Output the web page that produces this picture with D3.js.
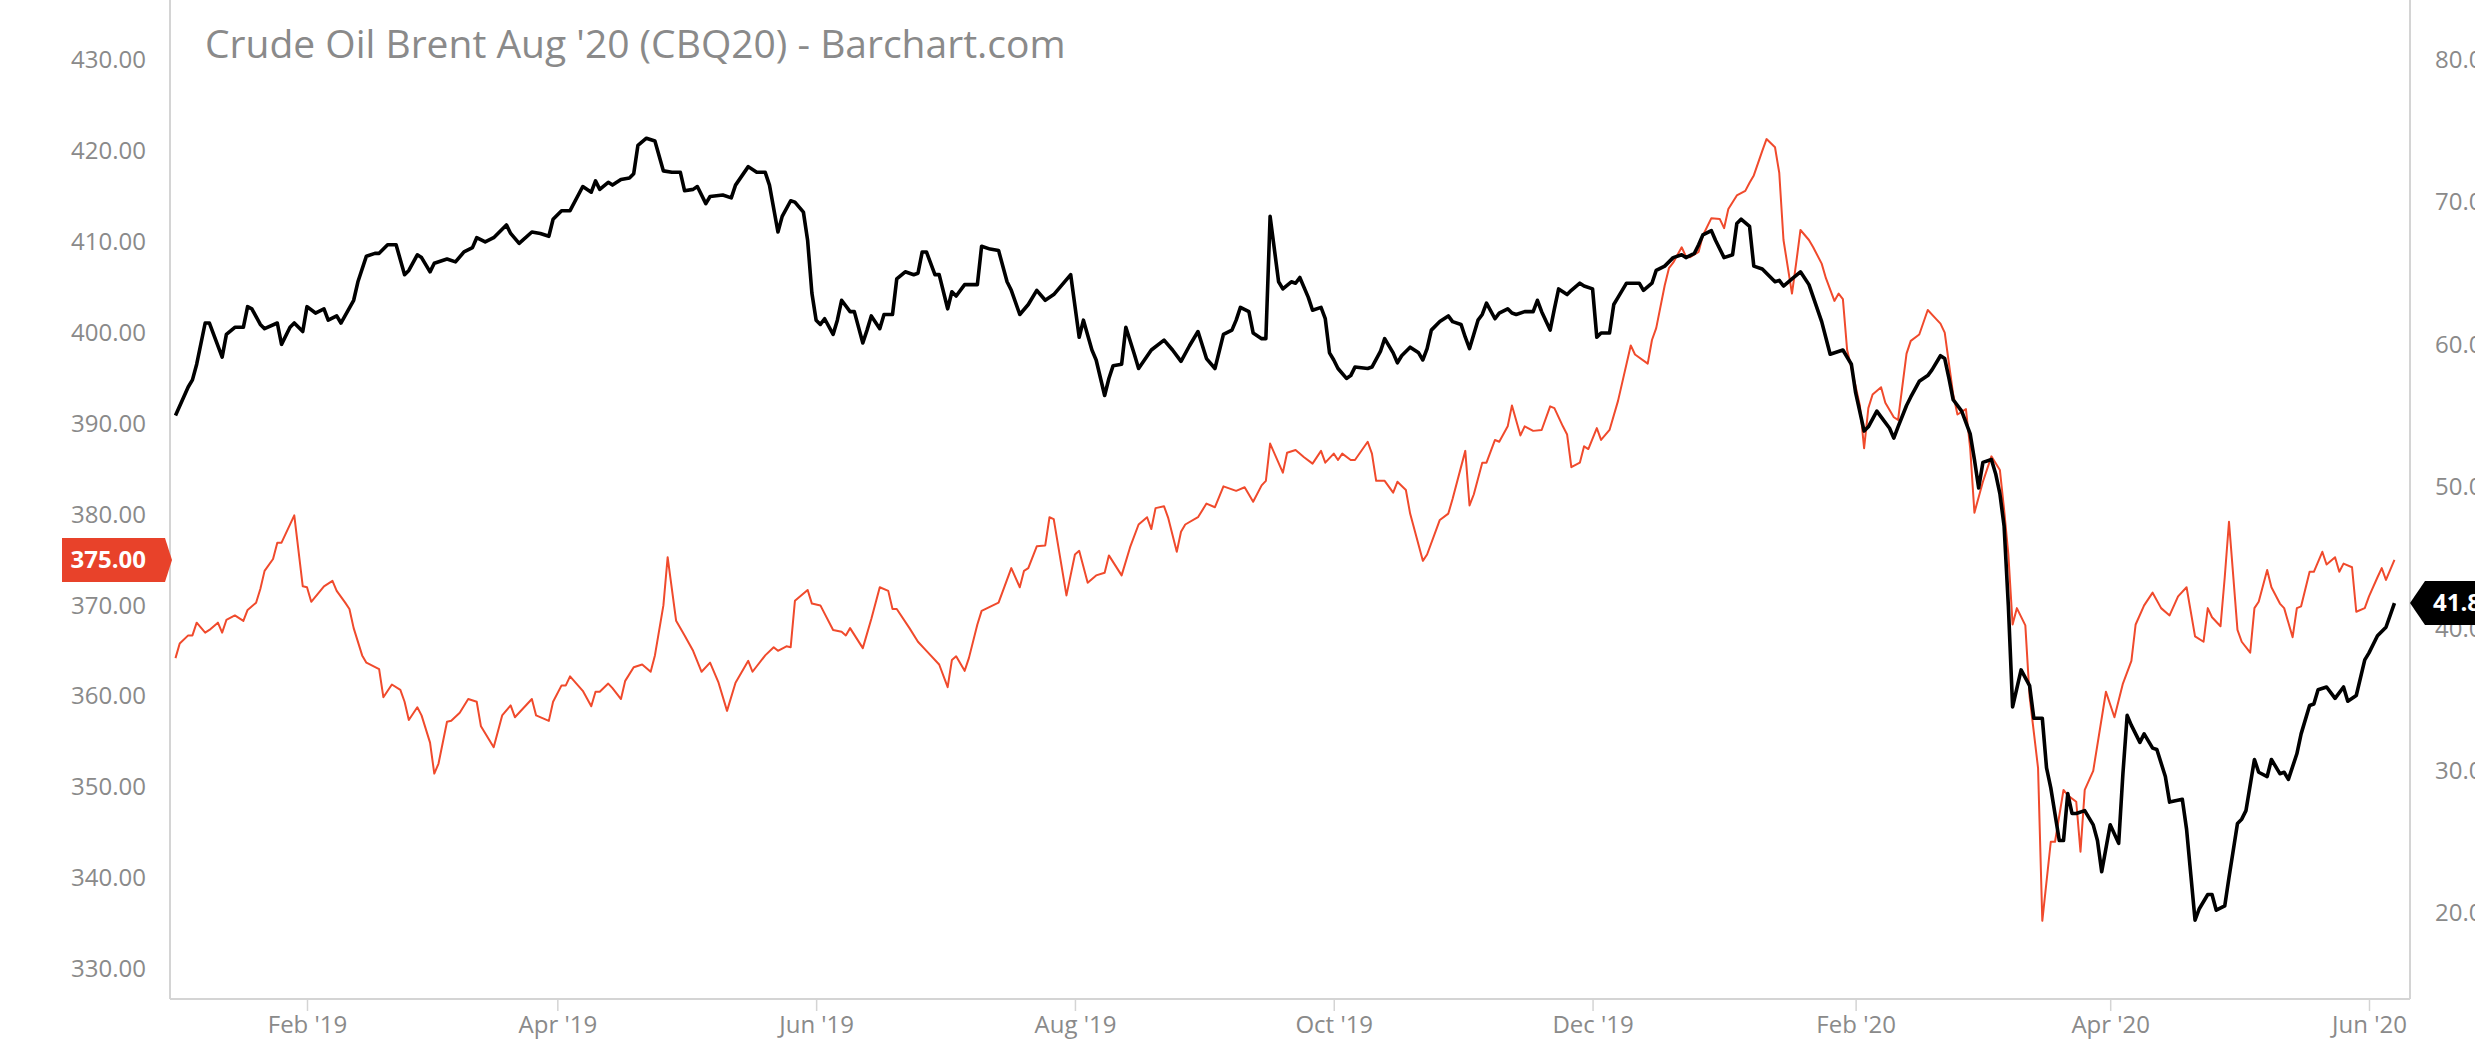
<!DOCTYPE html>
<html><head><meta charset="utf-8">
<script src="https://cdn.jsdelivr.net/npm/d3@7"></script>
<style>
body{margin:0;background:#fff;overflow:hidden}
svg{display:block;font-family:'Open Sans',sans-serif}
</style>
</head><body><svg id="chart" width="2475" height="1055"></svg>
<script>
const chartTitle = "Crude Oil Brent Aug '20 (CBQ20) - Barchart.com";
const leftTicks = [330, 340, 350, 360, 370, 380, 390, 400, 410, 420, 430];
const rightTicks = [20, 30, 40, 50, 60, 70, 80];
const xTickDates = ["2019-02-01","2019-04-01","2019-06-01","2019-08-01","2019-10-01","2019-12-01","2020-02-01","2020-04-01","2020-06-01"];

// Black series: Brent Aug '20 (right axis)
const brentDates = ["2019-01-01","2019-01-04","2019-01-05","2019-01-06","2019-01-08","2019-01-09","2019-01-12","2019-01-13","2019-01-15","2019-01-17","2019-01-18","2019-01-19","2019-01-21","2019-01-22","2019-01-25","2019-01-26","2019-01-28","2019-01-29","2019-01-31","2019-02-01","2019-02-03","2019-02-05","2019-02-06","2019-02-08","2019-02-09","2019-02-12","2019-02-13","2019-02-15","2019-02-17","2019-02-18","2019-02-20","2019-02-22","2019-02-24","2019-02-25","2019-02-27","2019-02-28","2019-03-02","2019-03-03","2019-03-06","2019-03-08","2019-03-10","2019-03-12","2019-03-13","2019-03-15","2019-03-17","2019-03-20","2019-03-21","2019-03-23","2019-03-26","2019-03-28","2019-03-30","2019-03-31","2019-04-02","2019-04-04","2019-04-07","2019-04-09","2019-04-10","2019-04-11","2019-04-13","2019-04-14","2019-04-16","2019-04-18","2019-04-19","2019-04-20","2019-04-22","2019-04-24","2019-04-26","2019-04-28","2019-04-30","2019-05-01","2019-05-03","2019-05-04","2019-05-06","2019-05-07","2019-05-10","2019-05-12","2019-05-13","2019-05-16","2019-05-18","2019-05-20","2019-05-21","2019-05-23","2019-05-24","2019-05-26","2019-05-27","2019-05-29","2019-05-30","2019-05-31","2019-06-01","2019-06-02","2019-06-03","2019-06-05","2019-06-06","2019-06-07","2019-06-09","2019-06-10","2019-06-12","2019-06-13","2019-06-14","2019-06-16","2019-06-17","2019-06-19","2019-06-20","2019-06-22","2019-06-24","2019-06-25","2019-06-26","2019-06-27","2019-06-29","2019-06-30","2019-07-02","2019-07-03","2019-07-04","2019-07-06","2019-07-09","2019-07-10","2019-07-12","2019-07-14","2019-07-16","2019-07-17","2019-07-19","2019-07-21","2019-07-23","2019-07-25","2019-07-27","2019-07-29","2019-07-31","2019-08-02","2019-08-03","2019-08-05","2019-08-06","2019-08-08","2019-08-09","2019-08-10","2019-08-12","2019-08-13","2019-08-15","2019-08-16","2019-08-19","2019-08-22","2019-08-24","2019-08-26","2019-08-28","2019-08-30","2019-09-01","2019-09-03","2019-09-05","2019-09-07","2019-09-08","2019-09-09","2019-09-11","2019-09-12","2019-09-14","2019-09-15","2019-09-16","2019-09-18","2019-09-19","2019-09-21","2019-09-22","2019-09-23","2019-09-25","2019-09-26","2019-09-28","2019-09-29","2019-09-30","2019-10-01","2019-10-02","2019-10-04","2019-10-05","2019-10-06","2019-10-09","2019-10-10","2019-10-12","2019-10-13","2019-10-15","2019-10-16","2019-10-17","2019-10-19","2019-10-21","2019-10-22","2019-10-23","2019-10-24","2019-10-26","2019-10-28","2019-10-29","2019-10-31","2019-11-01","2019-11-02","2019-11-04","2019-11-05","2019-11-06","2019-11-08","2019-11-09","2019-11-11","2019-11-12","2019-11-13","2019-11-15","2019-11-17","2019-11-18","2019-11-19","2019-11-21","2019-11-22","2019-11-23","2019-11-25","2019-11-26","2019-11-28","2019-11-29","2019-12-01","2019-12-02","2019-12-03","2019-12-05","2019-12-06","2019-12-07","2019-12-09","2019-12-11","2019-12-12","2019-12-13","2019-12-15","2019-12-16","2019-12-18","2019-12-20","2019-12-22","2019-12-23","2019-12-25","2019-12-26","2019-12-27","2019-12-29","2019-12-30","2020-01-01","2020-01-03","2020-01-04","2020-01-05","2020-01-07","2020-01-08","2020-01-10","2020-01-13","2020-01-14","2020-01-15","2020-01-17","2020-01-19","2020-01-21","2020-01-24","2020-01-26","2020-01-29","2020-01-31","2020-02-01","2020-02-03","2020-02-04","2020-02-06","2020-02-07","2020-02-09","2020-02-10","2020-02-11","2020-02-13","2020-02-14","2020-02-16","2020-02-18","2020-02-19","2020-02-21","2020-02-22","2020-02-23","2020-02-24","2020-02-26","2020-02-28","2020-02-29","2020-03-01","2020-03-02","2020-03-04","2020-03-05","2020-03-06","2020-03-07","2020-03-08","2020-03-09","2020-03-11","2020-03-13","2020-03-14","2020-03-16","2020-03-17","2020-03-18","2020-03-20","2020-03-21","2020-03-22","2020-03-23","2020-03-24","2020-03-26","2020-03-28","2020-03-29","2020-03-30","2020-04-01","2020-04-03","2020-04-04","2020-04-05","2020-04-06","2020-04-08","2020-04-09","2020-04-11","2020-04-12","2020-04-14","2020-04-15","2020-04-18","2020-04-19","2020-04-20","2020-04-21","2020-04-22","2020-04-24","2020-04-25","2020-04-26","2020-04-28","2020-04-29","2020-05-01","2020-05-02","2020-05-03","2020-05-05","2020-05-06","2020-05-08","2020-05-09","2020-05-11","2020-05-12","2020-05-13","2020-05-15","2020-05-16","2020-05-18","2020-05-19","2020-05-20","2020-05-22","2020-05-24","2020-05-26","2020-05-27","2020-05-29","2020-05-31","2020-06-01","2020-06-03","2020-06-05","2020-06-07"];
const brentValues = [55.0,57.0,57.5,58.6,61.5,61.5,59.1,60.7,61.2,61.2,62.65,62.5,61.4,61.1,61.5,60.0,61.2,61.5,60.9,62.65,62.2,62.5,61.7,62.0,61.5,63.1,64.4,66.2,66.4,66.4,67.0,67.0,64.9,65.2,66.3,66.1,65.1,65.7,66.0,65.8,66.5,66.8,67.5,67.2,67.5,68.4,67.8,67.1,67.9,67.8,67.6,68.8,69.4,69.4,71.1,70.7,71.5,70.9,71.4,71.2,71.6,71.7,72.0,74.0,74.5,74.3,72.2,72.1,72.1,70.8,70.9,71.1,69.9,70.4,70.5,70.3,71.2,72.5,72.1,72.1,71.2,67.9,69.0,70.1,70.0,69.3,67.3,63.6,61.7,61.4,61.8,60.7,61.7,63.1,62.3,62.3,60.1,61.0,62.0,61.1,62.1,62.1,64.6,65.1,64.9,65.0,66.5,66.5,64.9,64.9,62.5,63.7,63.4,64.2,64.2,66.9,66.7,66.6,64.4,63.8,62.1,62.8,63.8,63.1,63.5,64.2,64.9,60.5,61.7,59.6,58.9,56.4,57.6,58.5,58.6,61.2,59.3,58.3,59.6,60.3,59.6,58.8,59.9,60.9,59.0,58.3,60.7,61.0,61.7,62.6,62.3,60.8,60.4,60.4,69.0,64.4,63.9,64.4,64.3,64.7,63.3,62.4,62.6,61.8,59.4,58.9,58.3,57.6,57.8,58.4,58.3,58.4,59.5,60.4,59.4,58.7,59.2,59.8,59.4,58.9,59.7,61.0,61.6,62.0,61.6,61.4,60.5,59.7,61.7,62.1,62.9,61.8,62.2,62.5,62.2,62.1,62.3,62.3,63.1,62.3,61.0,62.5,63.9,63.5,63.8,64.3,64.1,63.9,60.5,60.8,60.8,62.8,63.3,64.3,64.3,64.3,63.8,64.3,65.2,65.5,66.1,66.3,66.1,66.4,67.0,67.7,68.0,67.3,66.1,66.3,68.5,68.8,68.3,65.5,65.3,64.4,64.5,64.1,64.6,65.1,64.2,61.6,59.3,59.6,58.6,56.6,53.9,54.2,55.3,54.9,54.1,53.4,54.2,55.7,56.3,57.4,57.8,58.2,59.2,59.0,57.6,56.1,55.3,53.7,51.9,49.9,51.7,51.9,50.9,49.5,47.2,41.6,34.5,37.1,36.0,33.7,33.7,30.2,28.8,25.1,25.1,28.4,27.0,27.0,27.2,26.2,25.1,22.9,26.2,24.9,29.8,33.9,33.2,32.0,32.6,31.6,31.5,29.6,27.8,28.0,25.9,22.7,19.5,20.3,21.3,21.3,20.2,20.5,22.5,26.3,26.6,27.2,30.8,29.9,29.6,30.8,29.8,29.9,29.4,31.2,32.6,34.6,34.7,35.7,35.9,35.1,35.9,34.9,35.3,37.8,38.3,39.5,40.1,41.8];

// Red series (left axis)
const compareDates = ["2019-01-01","2019-01-02","2019-01-04","2019-01-05","2019-01-06","2019-01-08","2019-01-09","2019-01-11","2019-01-12","2019-01-13","2019-01-15","2019-01-17","2019-01-18","2019-01-20","2019-01-21","2019-01-22","2019-01-24","2019-01-25","2019-01-26","2019-01-29","2019-01-31","2019-02-01","2019-02-02","2019-02-05","2019-02-07","2019-02-08","2019-02-10","2019-02-11","2019-02-12","2019-02-14","2019-02-15","2019-02-18","2019-02-19","2019-02-21","2019-02-23","2019-02-24","2019-02-25","2019-02-27","2019-02-28","2019-03-02","2019-03-03","2019-03-04","2019-03-06","2019-03-07","2019-03-09","2019-03-11","2019-03-13","2019-03-14","2019-03-17","2019-03-19","2019-03-21","2019-03-22","2019-03-26","2019-03-27","2019-03-30","2019-03-31","2019-04-02","2019-04-03","2019-04-04","2019-04-07","2019-04-09","2019-04-10","2019-04-11","2019-04-13","2019-04-14","2019-04-16","2019-04-17","2019-04-19","2019-04-21","2019-04-23","2019-04-24","2019-04-26","2019-04-27","2019-04-29","2019-05-01","2019-05-03","2019-05-05","2019-05-07","2019-05-09","2019-05-11","2019-05-13","2019-05-16","2019-05-17","2019-05-20","2019-05-22","2019-05-23","2019-05-25","2019-05-26","2019-05-27","2019-05-30","2019-05-31","2019-06-02","2019-06-05","2019-06-07","2019-06-08","2019-06-09","2019-06-12","2019-06-14","2019-06-16","2019-06-18","2019-06-19","2019-06-20","2019-06-23","2019-06-25","2019-06-27","2019-06-30","2019-07-02","2019-07-03","2019-07-04","2019-07-06","2019-07-07","2019-07-09","2019-07-10","2019-07-14","2019-07-17","2019-07-19","2019-07-20","2019-07-21","2019-07-23","2019-07-25","2019-07-26","2019-07-27","2019-07-30","2019-08-01","2019-08-02","2019-08-04","2019-08-06","2019-08-08","2019-08-09","2019-08-12","2019-08-14","2019-08-16","2019-08-18","2019-08-19","2019-08-20","2019-08-22","2019-08-23","2019-08-25","2019-08-26","2019-08-27","2019-08-30","2019-09-01","2019-09-03","2019-09-05","2019-09-08","2019-09-10","2019-09-12","2019-09-14","2019-09-15","2019-09-16","2019-09-19","2019-09-20","2019-09-22","2019-09-24","2019-09-26","2019-09-28","2019-09-29","2019-10-01","2019-10-02","2019-10-03","2019-10-05","2019-10-06","2019-10-09","2019-10-10","2019-10-11","2019-10-13","2019-10-15","2019-10-16","2019-10-18","2019-10-19","2019-10-22","2019-10-23","2019-10-26","2019-10-28","2019-10-29","2019-11-01","2019-11-02","2019-11-03","2019-11-05","2019-11-06","2019-11-08","2019-11-09","2019-11-11","2019-11-12","2019-11-14","2019-11-15","2019-11-17","2019-11-19","2019-11-21","2019-11-22","2019-11-24","2019-11-25","2019-11-26","2019-11-28","2019-11-29","2019-11-30","2019-12-02","2019-12-03","2019-12-05","2019-12-07","2019-12-10","2019-12-11","2019-12-14","2019-12-15","2019-12-16","2019-12-18","2019-12-19","2019-12-20","2019-12-22","2019-12-23","2019-12-24","2019-12-26","2019-12-27","2019-12-29","2019-12-31","2020-01-01","2020-01-02","2020-01-04","2020-01-06","2020-01-07","2020-01-08","2020-01-10","2020-01-11","2020-01-13","2020-01-14","2020-01-15","2020-01-17","2020-01-18","2020-01-19","2020-01-21","2020-01-22","2020-01-24","2020-01-25","2020-01-27","2020-01-28","2020-01-29","2020-01-30","2020-02-01","2020-02-02","2020-02-03","2020-02-04","2020-02-05","2020-02-07","2020-02-08","2020-02-10","2020-02-11","2020-02-13","2020-02-14","2020-02-16","2020-02-18","2020-02-20","2020-02-21","2020-02-22","2020-02-24","2020-02-25","2020-02-27","2020-02-28","2020-02-29","2020-03-02","2020-03-04","2020-03-06","2020-03-07","2020-03-08","2020-03-09","2020-03-10","2020-03-12","2020-03-13","2020-03-15","2020-03-16","2020-03-18","2020-03-19","2020-03-21","2020-03-22","2020-03-24","2020-03-25","2020-03-26","2020-03-28","2020-03-31","2020-04-02","2020-04-04","2020-04-06","2020-04-07","2020-04-09","2020-04-11","2020-04-13","2020-04-15","2020-04-17","2020-04-19","2020-04-21","2020-04-23","2020-04-24","2020-04-25","2020-04-27","2020-04-28","2020-04-29","2020-05-01","2020-05-02","2020-05-04","2020-05-05","2020-05-06","2020-05-08","2020-05-09","2020-05-11","2020-05-12","2020-05-14","2020-05-15","2020-05-16","2020-05-18","2020-05-19","2020-05-21","2020-05-22","2020-05-24","2020-05-25","2020-05-26","2020-05-28","2020-05-29","2020-05-31","2020-06-01","2020-06-03","2020-06-04","2020-06-05","2020-06-07"];
const compareValues = [364.2,365.8,366.7,366.7,368.1,367.0,367.3,368.1,367.0,368.4,368.9,368.3,369.5,370.3,371.8,373.8,375.1,376.9,376.9,379.9,372.1,372.0,370.4,372.1,372.7,371.6,370.3,369.6,367.5,364.5,363.7,363.0,359.9,361.3,360.7,359.4,357.4,358.8,357.9,354.9,351.5,352.6,357.2,357.3,358.2,359.7,359.4,356.7,354.4,357.9,359.0,357.7,359.7,357.9,357.3,359.4,361.2,361.2,362.2,360.6,358.9,360.5,360.5,361.4,360.9,359.7,361.7,363.2,363.5,362.7,364.5,370.0,375.3,368.3,366.7,365.0,362.7,363.7,361.5,358.4,361.5,363.9,362.7,364.5,365.4,365.0,365.5,365.4,370.5,371.7,370.2,370.0,367.3,367.1,366.7,367.5,365.3,368.5,372.0,371.6,369.6,369.6,367.5,366.0,365.0,363.5,361.0,364.0,364.4,362.8,364.2,367.9,369.4,370.3,374.1,372.0,373.8,374.1,376.5,376.6,379.7,379.5,371.1,375.6,376.0,372.5,373.3,373.6,375.5,373.3,376.4,378.9,379.7,378.4,380.7,380.9,379.6,375.9,378.1,378.9,379.7,381.2,380.8,383.1,382.6,383.0,381.4,383.2,383.7,387.8,384.6,386.8,387.1,386.3,385.6,387.0,385.7,386.7,386.0,386.7,386.0,386.0,388.0,386.7,383.7,383.7,382.4,383.6,382.7,380.1,374.9,375.6,379.4,380.1,381.7,387.0,381.0,382.2,385.7,385.7,388.2,388.0,389.7,392.0,388.7,389.7,389.2,389.3,391.9,391.7,389.7,388.8,385.2,385.7,387.5,387.2,389.5,388.2,389.3,392.5,398.6,397.6,396.6,399.2,400.5,405.2,407.1,407.7,409.4,408.4,408.3,408.9,410.7,412.6,412.5,411.5,413.6,415.1,415.6,416.5,417.3,420.0,421.3,420.4,417.6,410.2,404.3,407.7,411.3,410.2,409.4,407.6,406.0,403.5,404.3,403.7,398.1,394.1,392.0,387.3,391.7,393.2,394.0,392.3,390.7,390.4,397.7,399.1,399.8,402.5,401.5,401.0,400.0,393.2,391.0,391.6,387.3,380.2,383.6,386.4,384.9,380.5,375.6,367.9,369.7,367.8,360.0,352.1,335.3,344.0,344.0,349.7,349.1,348.4,342.9,349.7,351.8,360.5,357.7,361.4,363.9,367.9,370.0,371.4,369.7,368.9,371.0,372.0,366.6,366.0,369.7,368.7,367.7,373.1,379.2,367.3,366.0,364.8,369.7,370.4,373.9,372.0,370.2,369.7,366.5,369.7,369.9,373.7,373.7,375.9,374.5,375.3,373.7,374.6,374.2,369.3,369.7,371.0,373.1,374.1,372.8,375.0];

const W = 2475, H = 1055;
const plot = {left: 170, right: 2410, top: 0, bottom: 999};
const parse = d3.timeParse("%Y-%m-%d");
const brent = brentDates.map((d, i) => ({date: parse(d), value: brentValues[i]}));
const compare = compareDates.map((d, i) => ({date: parse(d), value: compareValues[i]}));

const x = d3.scaleTime().domain([parse("2019-02-01"), parse("2020-06-01")]).range([307, 2369]);
const yL = d3.scaleLinear().domain([330, 430]).range([969, 60]);
const yR = d3.scaleLinear().domain([20, 80]).range([913, 60]);

const svg = d3.select("#chart");
const gray = "#8a8a8a";
const frame = "#d4d4d4";
const red = "#f04a2c";

svg.append("defs").append("clipPath").attr("id", "clip")
  .append("rect").attr("x", plot.left).attr("y", plot.top)
  .attr("width", plot.right - plot.left).attr("height", plot.bottom - plot.top);

// frame
svg.append("line").attr("x1", plot.left).attr("x2", plot.left).attr("y1", 0).attr("y2", plot.bottom)
  .attr("stroke", frame).attr("stroke-width", 2);
svg.append("line").attr("x1", plot.right).attr("x2", plot.right).attr("y1", 0).attr("y2", plot.bottom)
  .attr("stroke", frame).attr("stroke-width", 2);
svg.append("line").attr("x1", plot.left).attr("x2", plot.right).attr("y1", plot.bottom).attr("y2", plot.bottom)
  .attr("stroke", frame).attr("stroke-width", 2);

// title
svg.append("text").attr("x", 205).attr("y", 58).attr("fill", gray)
  .attr("font-size", 39).text(chartTitle);

// x axis
const xAxis = svg.append("g").attr("transform", `translate(0,${plot.bottom})`)
  .call(d3.axisBottom(x).tickValues(xTickDates.map(parse)).tickFormat(d3.timeFormat("%b '%y")).tickSize(12).tickSizeOuter(0));
xAxis.select(".domain").remove();
xAxis.selectAll(".tick line").attr("stroke", frame).attr("stroke-width", 1.5);
xAxis.selectAll(".tick text").attr("y", 34).attr("dy", 0).attr("fill", gray)
  .attr("font-size", 24).attr("font-family", "'Open Sans',sans-serif");

// left axis
const lAxis = svg.append("g").attr("transform", `translate(${plot.left},0)`)
  .call(d3.axisLeft(yL).tickValues(leftTicks).tickFormat(d3.format(".2f")).tickSize(0).tickPadding(24));
lAxis.select(".domain").remove();
lAxis.selectAll(".tick text").attr("fill", gray).attr("font-size", 24).attr("font-family", "'Open Sans',sans-serif");

// right axis
const rAxis = svg.append("g").attr("transform", `translate(${plot.right},0)`)
  .call(d3.axisRight(yR).tickValues(rightTicks).tickFormat(d3.format(".2f")).tickSize(0).tickPadding(25));
rAxis.select(".domain").remove();
rAxis.selectAll(".tick text").attr("fill", gray).attr("font-size", 24).attr("font-family", "'Open Sans',sans-serif");

// lines
const g = svg.append("g").attr("clip-path", "url(#clip)");
g.append("path").datum(compare)
  .attr("d", d3.line().x(d => x(d.date)).y(d => yL(d.value)))
  .attr("fill", "none").attr("stroke", red).attr("stroke-width", 2).attr("stroke-linejoin", "round");
g.append("path").datum(brent)
  .attr("d", d3.line().x(d => x(d.date)).y(d => yR(d.value)))
  .attr("fill", "none").attr("stroke", "#000").attr("stroke-width", 3.6).attr("stroke-linejoin", "round");

// last-value tags
const lastC = compare[compare.length - 1].value;
const cy = yL(lastC);
const th = 44;
svg.append("path")
  .attr("d", `M62,${cy - th/2} H165 L172,${cy} L165,${cy + th/2} H62 Z`)
  .attr("fill", "#e8422a");
svg.append("text").attr("x", 146).attr("y", cy).attr("dy", "0.35em").attr("text-anchor", "end")
  .attr("fill", "#fff").attr("font-weight", 700).attr("font-size", 24).text(d3.format(".2f")(lastC));

const lastB = brent[brent.length - 1].value;
const by = yR(lastB);
svg.append("path")
  .attr("d", `M${plot.right},${by} L${plot.right + 15},${by - th/2} H${W + 10} V${by + th/2} H${plot.right + 15} Z`)
  .attr("fill", "#000");
svg.append("text").attr("x", 2433).attr("y", by).attr("dy", "0.35em")
  .attr("fill", "#fff").attr("font-weight", 700).attr("font-size", 24).text(d3.format(".2f")(lastB));
</script>
</body></html>
